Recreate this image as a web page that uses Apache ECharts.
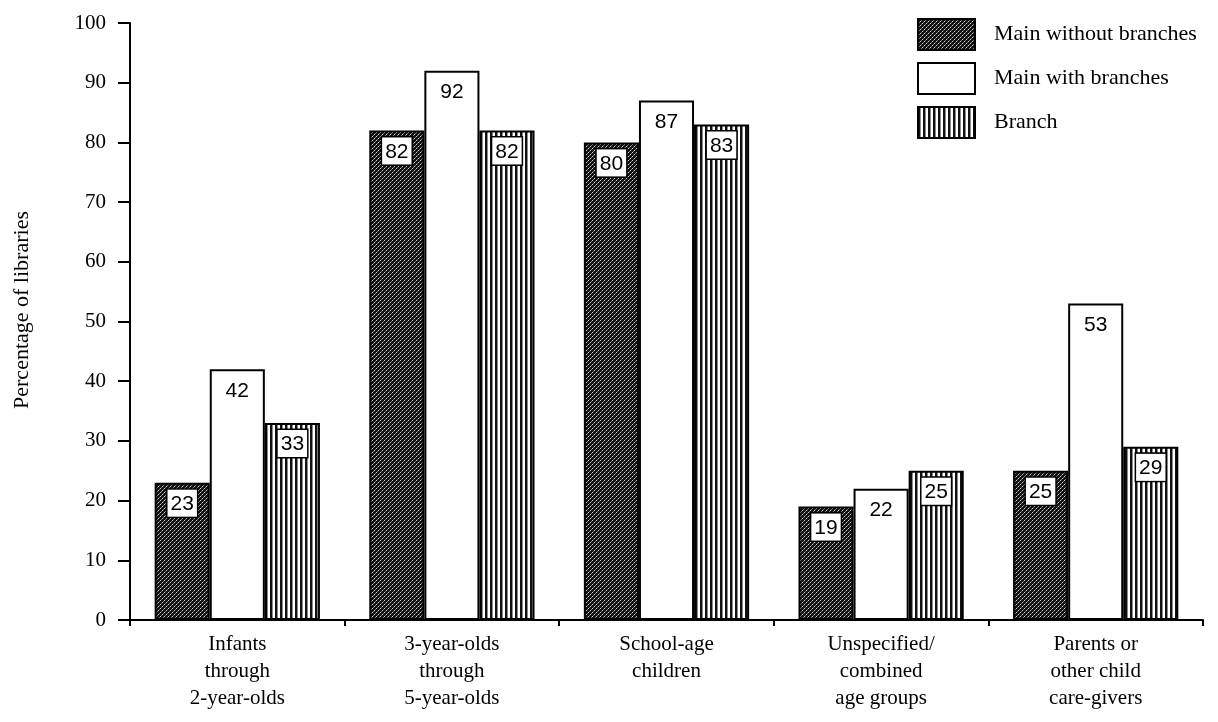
<!DOCTYPE html>
<html>
<head>
<meta charset="utf-8">
<script src="https://cdn.jsdelivr.net/npm/echarts@6/dist/echarts.min.js"></script>
<style>
  html, body { margin: 0; padding: 0; background: #fff; }
  #chart { width: 1218px; height: 722px; }
</style>
</head>
<body>
<div id="chart"></div>
<script>
// Age groups served, by library type (percent of libraries)
const categories = [
  'Infants\nthrough\n2-year-olds',
  '3-year-olds\nthrough\n5-year-olds',
  'School-age\nchildren',
  'Unspecified/\ncombined\nage groups',
  'Parents or\nother child\ncare-givers'
];
const seriesNames = ['Main without branches', 'Main with branches', 'Branch'];
const mainWithoutBranches = [23, 82, 80, 19, 25];
const mainWithBranches = [42, 92, 87, 22, 53];
const branch = [33, 82, 83, 25, 29];
const yTicks = { min: 0, max: 100, interval: 10 };
const yTitle = 'Percentage of libraries';

const SERIF = '"Liberation Serif", "DejaVu Serif", serif';
const SANS = '"Liberation Sans", Arial, sans-serif';

// Dark cross-hatched stipple fill
function stippleFill() {
  const c = document.createElement('canvas');
  c.width = 4; c.height = 4;
  const g = c.getContext('2d');
  g.fillStyle = '#121212';
  g.fillRect(0, 0, 4, 4);
  g.fillStyle = '#d0d0d0';
  [[0,0],[2,2]].forEach(p => g.fillRect(p[0], p[1], 1, 1));
  g.fillStyle = '#7a7a7a';
  [[1,3],[3,1]].forEach(p => g.fillRect(p[0], p[1], 1, 1));
  return { image: c, repeat: 'repeat' };
}
// Vertical black/white stripes
function stripeFill() {
  const c = document.createElement('canvas');
  c.width = 5; c.height = 4;
  const g = c.getContext('2d');
  g.fillStyle = '#ffffff';
  g.fillRect(0, 0, 5, 4);
  g.fillStyle = '#111111';
  g.fillRect(0, 0, 2, 4);
  g.fillStyle = '#8a8a8a';
  g.fillRect(2, 0, 1, 4);
  return { image: c, repeat: 'repeat' };
}

const boxedLabel = {
  show: true,
  position: 'insideTop',
  distance: 7,
  color: '#000',
  fontFamily: SANS,
  fontSize: 21,
  backgroundColor: '#fff',
  borderColor: '#000',
  borderWidth: 1.5,
  padding: [4, 3, 2, 3]
};
const plainLabel = {
  show: true,
  position: 'insideTop',
  distance: 7,
  color: '#000',
  fontFamily: SANS,
  fontSize: 21,
  padding: [4, 3, 2, 3]
};

const chart = echarts.init(document.getElementById('chart'), null, { renderer: 'canvas' });
chart.setOption({
  backgroundColor: '#fff',
  animation: false,
  grid: { left: 130, right: 15, top: 23, bottom: 102 },
  legend: {
    orient: 'vertical',
    left: 917,
    top: 18,
    itemWidth: 57,
    itemHeight: 31,
    itemGap: 11,
    padding: 0,
    icon: 'rect',
    data: seriesNames,
    textStyle: { fontFamily: SERIF, fontSize: 22, color: '#000', padding: [0, 0, 0, 14] }
  },
  // Rotated y-axis title
  graphic: [{
    type: 'text',
    x: 22,
    y: 310,
    rotation: Math.PI / 2,
    style: {
      text: yTitle,
      fontFamily: SERIF,
      fontSize: 22,
      fill: '#000',
      align: 'center',
      verticalAlign: 'middle'
    }
  }],
  xAxis: {
    type: 'category',
    data: categories,
    axisLine: { lineStyle: { color: '#000', width: 2 } },
    axisTick: { show: true, length: 6, lineStyle: { color: '#000', width: 2 } },
    axisLabel: { color: '#000', fontFamily: SERIF, fontSize: 21, lineHeight: 27, margin: 11, interval: 0 }
  },
  yAxis: {
    type: 'value',
    min: yTicks.min,
    max: yTicks.max,
    interval: yTicks.interval,
    splitLine: { show: false },
    axisLine: { show: true, lineStyle: { color: '#000', width: 2 } },
    axisTick: { show: true, length: 12, lineStyle: { color: '#000', width: 2 } },
    axisLabel: { color: '#000', fontFamily: SERIF, fontSize: 21, margin: 24 }
  },
  series: [
    {
      name: seriesNames[0], type: 'bar', data: mainWithoutBranches,
      barGap: '0%', barCategoryGap: '23%',
      itemStyle: { color: stippleFill(), borderColor: '#000', borderWidth: 2 },
      label: boxedLabel
    },
    {
      name: seriesNames[1], type: 'bar', data: mainWithBranches,
      barGap: '0%', barCategoryGap: '23%',
      itemStyle: { color: '#fff', borderColor: '#000', borderWidth: 2 },
      label: plainLabel
    },
    {
      name: seriesNames[2], type: 'bar', data: branch,
      barGap: '0%', barCategoryGap: '23%',
      itemStyle: { color: stripeFill(), borderColor: '#000', borderWidth: 2 },
      label: boxedLabel
    }
  ]
});
</script>
</body>
</html>
